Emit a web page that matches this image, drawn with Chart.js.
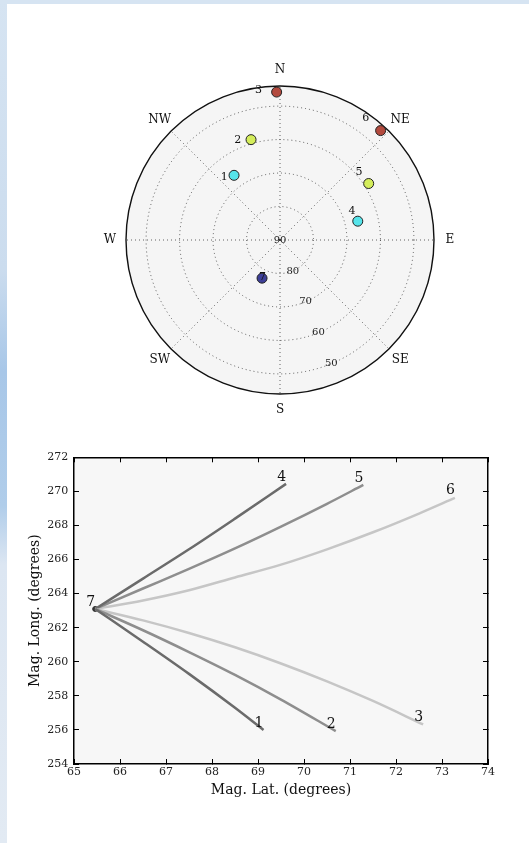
<!DOCTYPE html>
<html>
<head>
<meta charset="utf-8">
<script src="https://cdn.jsdelivr.net/npm/chart.js@4.4.0/dist/chart.umd.min.js"></script>
<style>
  html, body { margin: 0; padding: 0; background: #fff; }
  body { width: 529px; height: 843px; position: relative; overflow: hidden; }
  #edge-left { position: absolute; left: 0; top: 0; width: 7px; height: 843px;
    background: linear-gradient(to bottom, #d6e4f2 0%, #cbdcee 32%, #a8c7e8 44%, #b0cdea 60%, #dce6f2 67%, #e2eaf3 100%); }
  #edge-top { position: absolute; left: 0; top: 0; width: 529px; height: 4px; background: #d6e4f2; }
  #polar { position: absolute; left: 60px; top: 20px; }
  #track { position: absolute; left: 0; top: 440px; }
</style>
</head>
<body>
<div id="edge-left"></div>
<div id="edge-top"></div>
<canvas id="polar" width="440" height="440"></canvas>
<canvas id="track" width="529" height="380"></canvas>
<script>
var serif = 'DejaVu Serif';

// top panel: stations on a polar plot (bearing clockwise from N, latitude towards the rim)
var compassPoints = ['N', 'NE', 'E', 'SE', 'S', 'SW', 'W', 'NW'];
var latTicks = [50, 60, 70, 80, 90];
var polarEdge = 44;
var stationNames = ['1', '2', '3', '4', '5', '6', '7'];
var stationBearing = [324.6, 343.9, 358.7, 76.4, 57.5, 42.6, 205.2];
var stationLat = [66.3, 58.8, 45.8, 66.1, 58.6, 45.6, 77.4];
var stationColors = ['#56e4ea', '#d4ed5b', '#b34a3e', '#56e4ea', '#d4ed5b', '#b34a3e', '#3d3f97'];

// bottom panel: tracks running out from point 7
var xTicks = [65, 66, 67, 68, 69, 70, 71, 72, 73, 74];
var yTicks = [254, 256, 258, 260, 262, 264, 266, 268, 270, 272];
var trackNames = ['1', '2', '3', '4', '5', '6'];
var track1Lat = [65.46, 66.5, 67.5, 68.5, 69.12];
var track1Long = [263.1, 261.18, 259.29, 257.3, 256.0];
var track2Lat = [65.46, 66.5, 67.5, 68.5, 69.5, 70.69];
var track2Long = [263.1, 261.85, 260.57, 259.23, 257.78, 255.93];
var track3Lat = [65.46, 66.5, 67.5, 68.5, 69.5, 70.5, 71.5, 72.59];
var track3Long = [263.1, 262.43, 261.69, 260.85, 259.9, 258.85, 257.7, 256.32];
var track4Lat = [65.46, 66.5, 67.5, 68.5, 69.61];
var track4Long = [263.1, 264.88, 266.6, 268.4, 270.44];
var track5Lat = [65.46, 66.5, 67.5, 68.5, 69.5, 70.5, 71.29];
var track5Long = [263.1, 264.3, 265.45, 266.65, 267.93, 269.27, 270.38];
var track6Lat = [65.46, 66.5, 67.5, 68.5, 69.5, 70.5, 71.5, 72.5, 73.28];
var track6Long = [263.1, 263.6, 264.2, 264.95, 265.7, 266.6, 267.6, 268.7, 269.62];
var originLat = [65.46];
var originLong = [263.1];

var trackColors = ['#6b6b6b', '#8e8e8e', '#c6c6c6', '#6b6b6b', '#8e8e8e', '#c6c6c6'];

function polarPos(scale, bearing, value) {
  var d = scale.getDistanceFromCenterForValue(value);
  var a = bearing * Math.PI / 180;
  return { x: scale.xCenter + d * Math.sin(a), y: scale.yCenter - d * Math.cos(a) };
}

var polarDecor = {
  id: 'polarDecor',
  beforeDraw: function (chart) {
    var r = chart.scales.r, ctx = chart.ctx;
    ctx.save();
    ctx.fillStyle = '#f5f5f5';
    ctx.beginPath();
    ctx.arc(r.xCenter, r.yCenter, r.drawingArea, 0, Math.PI * 2);
    ctx.fill();
    ctx.restore();
  },
  afterDraw: function (chart) {
    var r = chart.scales.r, ctx = chart.ctx, i, p;
    ctx.save();
    ctx.strokeStyle = '#111';
    ctx.lineWidth = 1.4;
    ctx.beginPath();
    ctx.arc(r.xCenter, r.yCenter, r.drawingArea, 0, Math.PI * 2);
    ctx.stroke();

    ctx.fillStyle = '#111';
    ctx.textAlign = 'center';
    ctx.textBaseline = 'middle';
    ctx.font = '12px ' + serif;
    for (i = 0; i < compassPoints.length; i++) {
      p = r.getPointPosition(i, r.drawingArea + 16);
      ctx.fillText(compassPoints[i], p.x, p.y);
    }

    ctx.font = '10px ' + serif;
    ctx.fillStyle = '#222';
    for (i = 0; i < latTicks.length; i++) {
      p = polarPos(r, 157.5, latTicks[i]);
      ctx.fillText(String(latTicks[i]), p.x, p.y);
    }

    for (i = 0; i < stationNames.length; i++) {
      p = polarPos(r, stationBearing[i], stationLat[i]);
      ctx.beginPath();
      ctx.arc(p.x, p.y, 5, 0, Math.PI * 2);
      ctx.fillStyle = stationColors[i];
      ctx.fill();
      ctx.lineWidth = 1;
      ctx.strokeStyle = '#222';
      ctx.stroke();
    }

    ctx.font = '11px ' + serif;
    ctx.fillStyle = '#111';
    ctx.textAlign = 'right';
    ctx.textBaseline = 'alphabetic';
    for (i = 0; i < stationNames.length; i++) {
      p = polarPos(r, stationBearing[i] - 5.7, stationLat[i]);
      ctx.fillText(stationNames[i], p.x, p.y);
    }
    ctx.restore();
  }
};

new Chart(document.getElementById('polar'), {
  type: 'radar',
  data: { labels: compassPoints, datasets: [] },
  options: {
    responsive: false,
    animation: false,
    layout: { padding: 66 },
    plugins: { legend: { display: false }, tooltip: { enabled: false } },
    scales: {
      r: {
        min: polarEdge,
        max: 90,
        reverse: true,
        afterBuildTicks: function (scale) {
          scale.ticks = [polarEdge].concat(latTicks).map(function (v) { return { value: v }; });
        },
        ticks: { display: false },
        pointLabels: { display: false },
        grid: { circular: true, color: 'rgba(0,0,0,0.6)', lineWidth: 1 },
        border: { dash: [1, 3] },
        angleLines: { color: 'rgba(0,0,0,0.6)', lineWidth: 1, borderDash: [1, 3] }
      }
    }
  },
  plugins: [polarDecor]
});

function toPoints(xs, ys) {
  return xs.map(function (x, i) { return { x: x, y: ys[i] }; });
}

var trackData = [
  toPoints(track1Lat, track1Long),
  toPoints(track2Lat, track2Long),
  toPoints(track3Lat, track3Long),
  toPoints(track4Lat, track4Long),
  toPoints(track5Lat, track5Long),
  toPoints(track6Lat, track6Long)
];

var datasets = trackData.map(function (pts, i) {
  return {
    label: trackNames[i],
    data: pts,
    showLine: true,
    borderColor: trackColors[i],
    borderWidth: 2.5,
    pointRadius: 0,
    cubicInterpolationMode: 'monotone',
    fill: false
  };
});
datasets.push({
  label: '7',
  data: toPoints(originLat, originLong),
  pointRadius: 2.5,
  pointBackgroundColor: '#333',
  pointBorderColor: '#333'
});

var plotBackground = {
  id: 'plotBackground',
  beforeDraw: function (chart) {
    var a = chart.chartArea, ctx = chart.ctx;
    ctx.save();
    ctx.fillStyle = '#f7f7f7';
    ctx.fillRect(a.left, a.top, a.right - a.left, a.bottom - a.top);
    ctx.restore();
  }
};

var trackLabels = {
  id: 'trackLabels',
  afterDatasetsDraw: function (chart) {
    var ctx = chart.ctx;
    ctx.save();
    ctx.font = '14px ' + serif;
    ctx.fillStyle = '#111';
    ctx.textAlign = 'right';
    ctx.textBaseline = 'bottom';
    chart.data.datasets.forEach(function (ds, i) {
      var pts = chart.getDatasetMeta(i).data;
      var end = pts[pts.length - 1];
      ctx.fillText(ds.label, end.x, end.y);
    });
    ctx.restore();
  }
};

function tickList(values) {
  return function (scale) {
    scale.ticks = values.map(function (v) { return { value: v }; });
  };
}

var frameGrid = { drawOnChartArea: false, tickLength: -5, color: '#000', lineWidth: 1 };
var frameBorder = { color: '#000', width: 1.5 };

new Chart(document.getElementById('track'), {
  type: 'scatter',
  data: { datasets: datasets },
  options: {
    responsive: false,
    animation: false,
    layout: { padding: { left: 0, right: 41, top: 17, bottom: 16 } },
    plugins: { legend: { display: false }, tooltip: { enabled: false } },
    scales: {
      x: {
        type: 'linear',
        position: 'bottom',
        min: xTicks[0],
        max: xTicks[xTicks.length - 1],
        afterBuildTicks: tickList(xTicks),
        afterFit: function (scale) { scale.height = 40; },
        ticks: { autoSkip: false, maxRotation: 0, padding: 7, color: '#222', font: { family: serif, size: 11 } },
        grid: frameGrid,
        border: frameBorder,
        title: { display: true, text: 'Mag. Lat. (degrees)', color: '#111', font: { family: serif, size: 14 }, padding: { top: 0, bottom: 5.6 } }
      },
      y: {
        type: 'linear',
        position: 'left',
        min: yTicks[0],
        max: yTicks[yTicks.length - 1],
        afterBuildTicks: tickList(yTicks),
        afterFit: function (scale) { scale.width = 74; },
        ticks: { autoSkip: false, padding: 10.7, color: '#222', font: { family: serif, size: 11 } },
        grid: frameGrid,
        border: frameBorder,
        title: { display: true, text: 'Mag. Long. (degrees)', color: '#111', font: { family: serif, size: 14 }, padding: { top: 26.6, bottom: 0 } }
      },
      x2: {
        type: 'linear',
        position: 'top',
        min: xTicks[0],
        max: xTicks[xTicks.length - 1],
        afterBuildTicks: tickList(xTicks),
        afterFit: function (scale) { scale.height = 0; },
        ticks: { display: false },
        grid: frameGrid,
        border: frameBorder
      },
      y2: {
        type: 'linear',
        position: 'right',
        min: yTicks[0],
        max: yTicks[yTicks.length - 1],
        afterBuildTicks: tickList(yTicks),
        afterFit: function (scale) { scale.width = 0; },
        ticks: { display: false },
        grid: frameGrid,
        border: frameBorder
      }
    }
  },
  plugins: [plotBackground, trackLabels]
});
</script>
</body>
</html>
